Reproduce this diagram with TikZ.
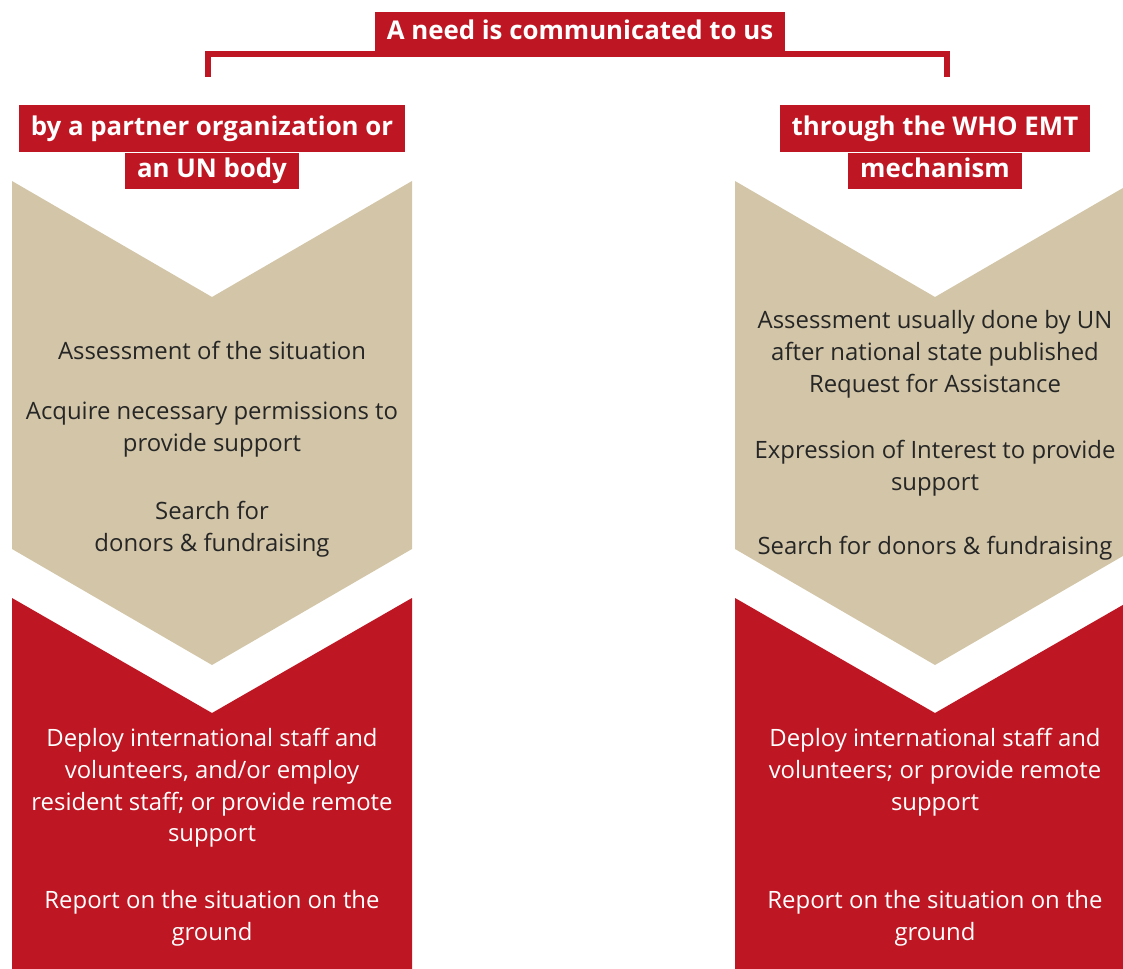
\documentclass[tikz,border=0pt]{standalone}
\usepackage{fontspec}
\setmainfont{Open Sans}
\usepackage{tikz}
\usetikzlibrary{positioning}

\definecolor{unred}{RGB}{190,22,34}
\definecolor{sand}{RGB}{211,198,168}

\begin{document}
\begin{tikzpicture}[x=0.02cm, y=-0.02cm,
  tag/.style={fill=unred, text=white, font=\bfseries\fontsize{14.7}{17}\selectfont, inner xsep=6.8pt, inner ysep=0pt, text height=11pt, text depth=3.5pt},
  sandtext/.style={align=center, text=black!85, font=\fontsize{13.6}{18.1}\selectfont},
  redtext/.style={align=center, text=white, font=\fontsize{13.6}{18.1}\selectfont},
  bracket/.style={draw=unred, line width=3.4pt}]
  \clip (0,0) rectangle (1123,969);

  % chevrons
  \foreach \cx in {212,935} {
    \fill[sand] (\cx-200,181) -- (\cx,297) -- (\cx+200,181) -- (\cx+200,549) -- (\cx,665) -- (\cx-200,549) -- cycle;
    \fill[unred] (\cx-200,598) -- (\cx,713) -- (\cx+200,598) -- (\cx+200,990) -- (\cx-200,990) -- cycle;
  }

  % top
  \node[tag, minimum height=24pt] (need) at (580,33) {A need is communicated to us};
  \coordinate (legL) at (208,77);
  \coordinate (legR) at (947,77);
  \draw[bracket] (legL) |- (need.south) -| (legR);

  % left column
  \node[tag, minimum height=26.6pt] (partner) at (212,128.5) {by a partner organization or};
  \node[tag, minimum height=21pt, below=0pt of partner] (partnerb) {an UN body};
  \node[sandtext] (assessL) at (212,350) {Assessment of the situation};
  \node[sandtext] (permit) at (212,430) {Acquire necessary permissions to\\provide support};
  \node[sandtext] (donorsL) at (212,529) {Search for\\donors \& fundraising};
  \node[redtext] (deployL) at (212,788) {Deploy international staff and\\volunteers, and/or employ\\resident staff; or provide remote\\support};
  \node[redtext] (reportL) at (212,918) {Report on the situation on the\\ground};

  % right column
  \node[tag, minimum height=26.6pt] (who) at (935,128.5) {through the WHO EMT};
  \node[tag, minimum height=21pt, below=0pt of who] (whob) {mechanism};
  \node[sandtext] (assessR) at (935,354) {Assessment usually done by UN\\after national state published\\Request for Assistance};
  \node[sandtext] (interest) at (935,468) {Expression of Interest to provide\\support};
  \node[sandtext] (donorsR) at (935,548) {Search for donors \& fundraising};
  \node[redtext] (deployR) at (935,772) {Deploy international staff and\\volunteers; or provide remote\\support};
  \node[redtext] (reportR) at (935,918) {Report on the situation on the\\ground};
\end{tikzpicture}
\end{document}
